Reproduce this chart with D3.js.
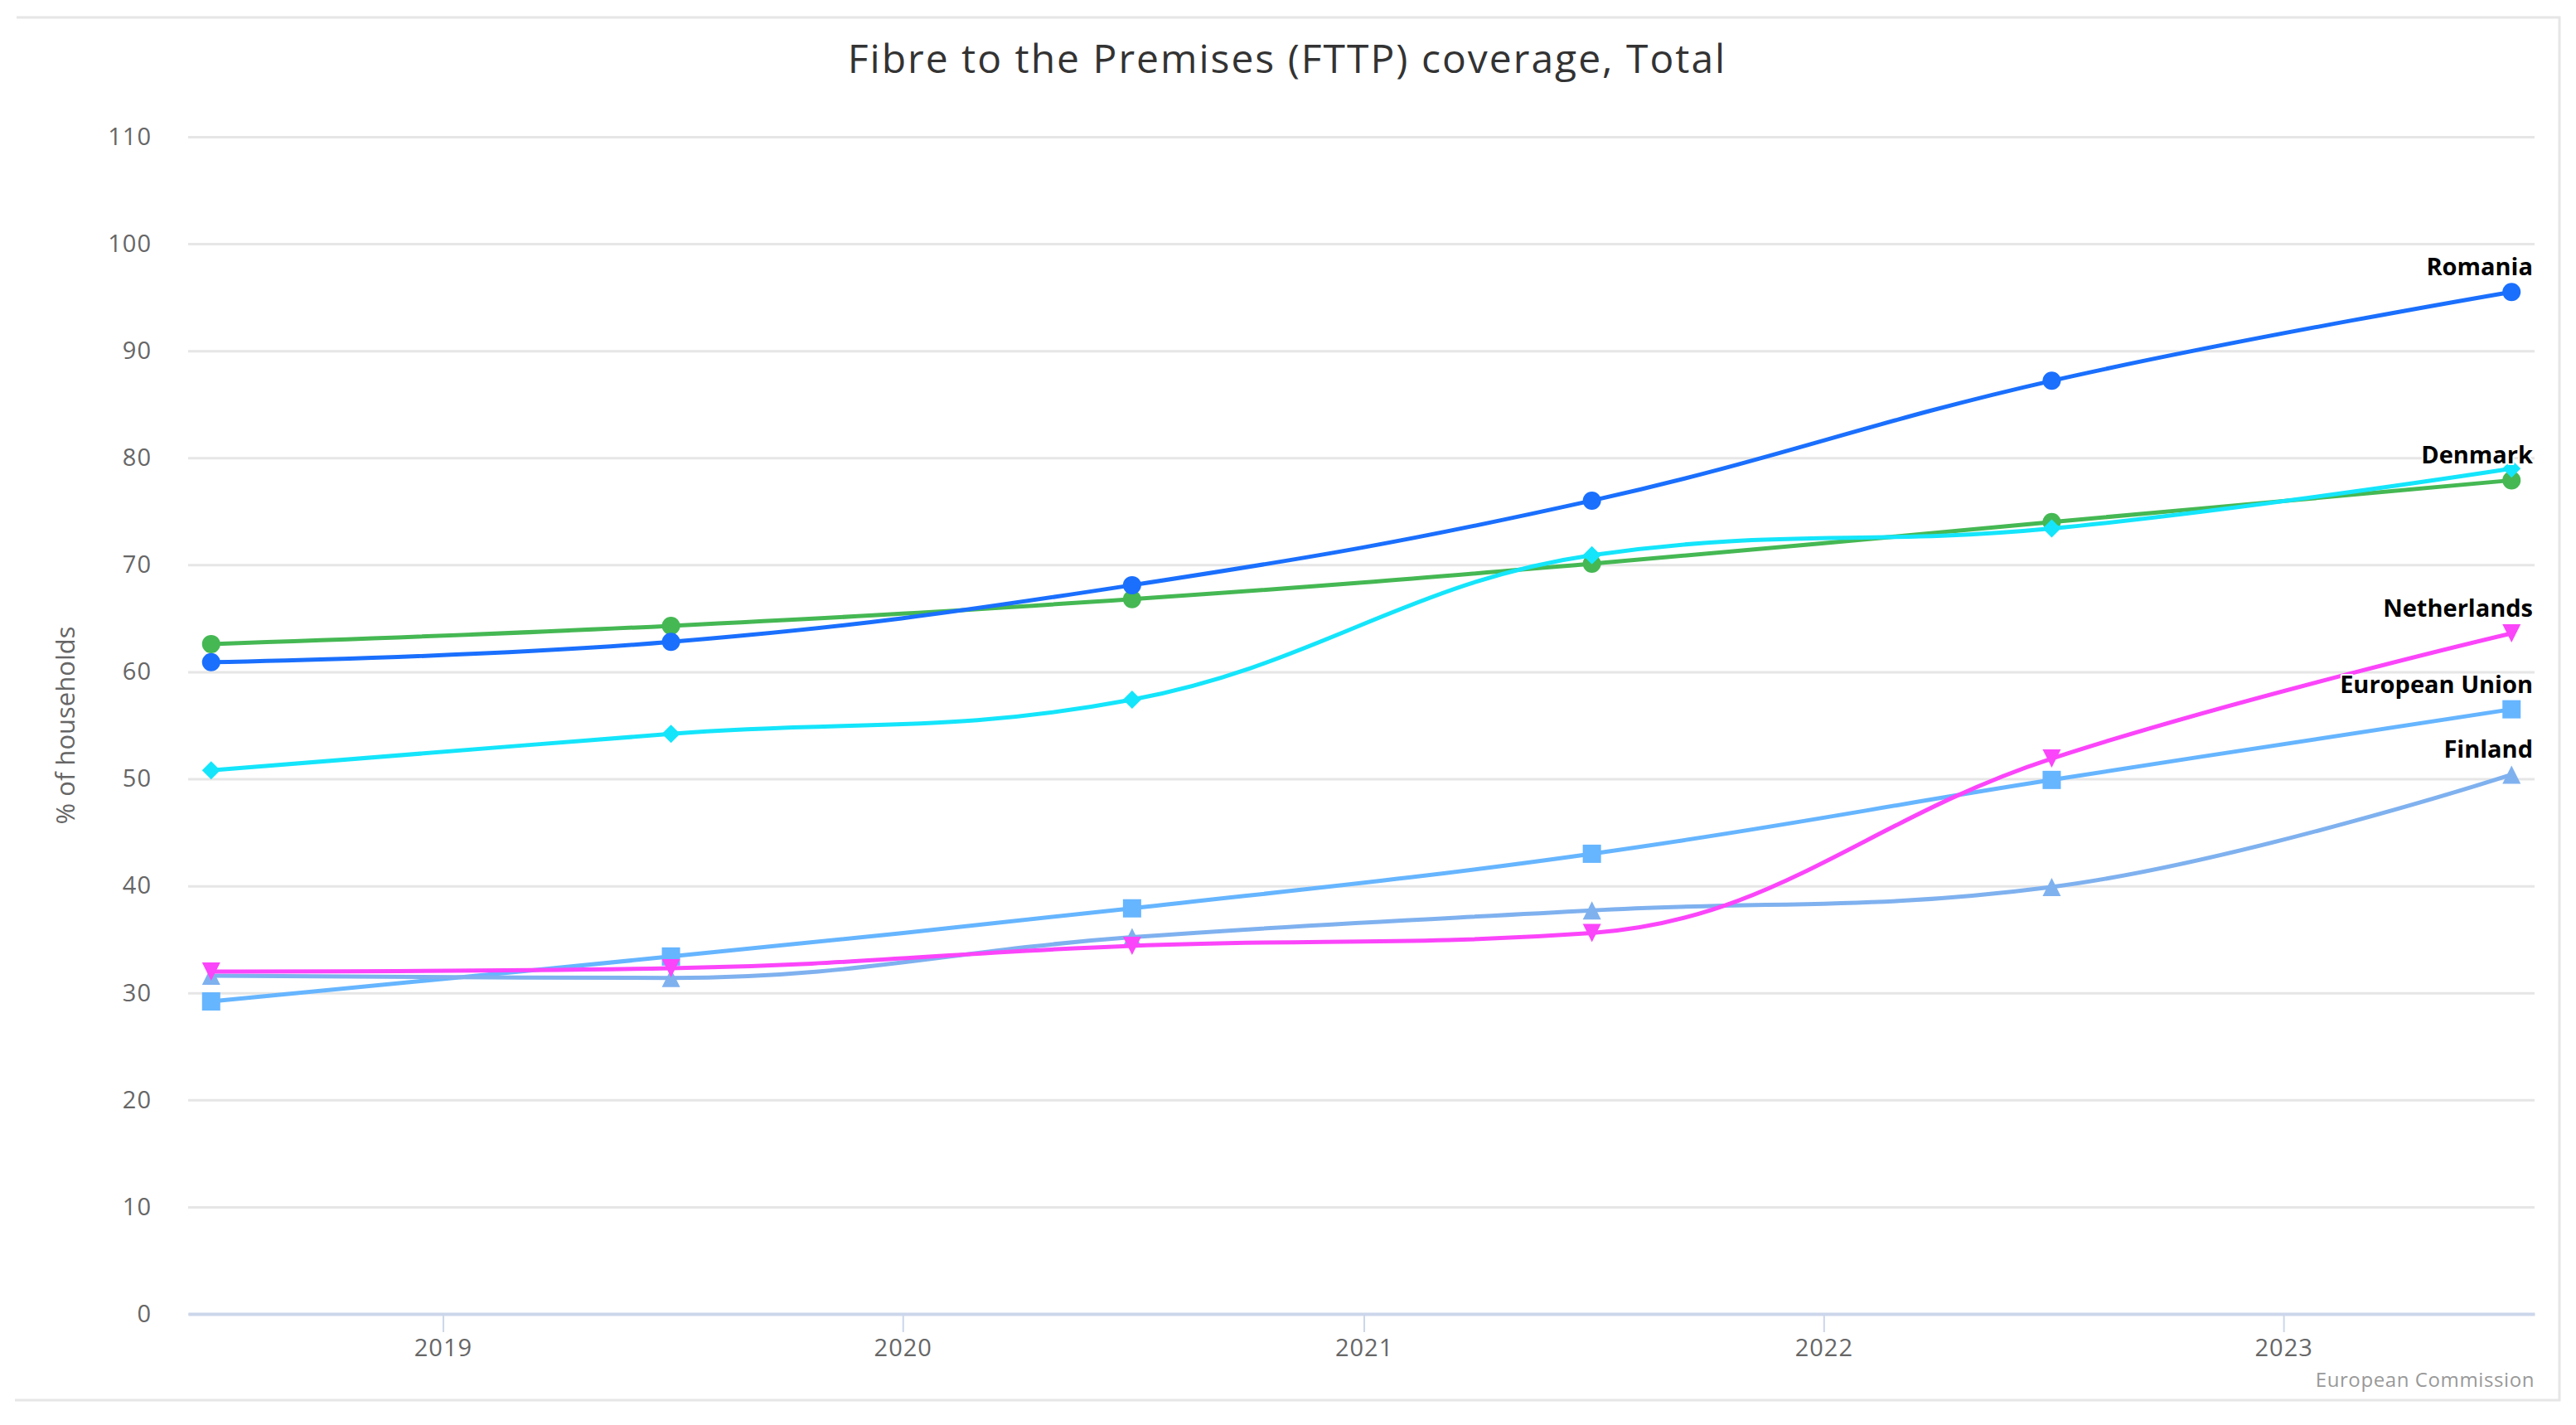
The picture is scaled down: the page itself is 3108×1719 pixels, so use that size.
<!DOCTYPE html>
<html>
<head>
<meta charset="utf-8">
<script src="https://cdn.jsdelivr.net/npm/d3@7"></script>
<style>
  body { margin: 0; background: #fff; }
  svg { display: block; font-family: "Open Sans", "Noto Sans", sans-serif; }
</style>
</head>
<body>
<svg id="chart" width="3108" height="1719"></svg>
<script>
// Data points sit in the middle of each year
var years = [2018, 2019, 2020, 2021, 2022, 2023];
var yTicks = [0, 10, 20, 30, 40, 50, 60, 70, 80, 90, 100, 110];

// Series in the original (alphabetical) order; Estonia's label is hidden
// because it collides with Denmark's
var seriesNames = ['Denmark', 'Estonia', 'European Union', 'Finland', 'Netherlands', 'Romania'];
var denmark     = [62.6, 64.3, 66.8, 70.1, 74.0, 77.9];
var estonia     = [50.8, 54.2, 57.4, 70.9, 73.4, 79.0];
var eu          = [29.2, 33.4, 37.9, 43.0, 49.9, 56.5];
var finland     = [31.6, 31.4, 35.2, 37.7, 39.9, 50.4];
var netherlands = [32.0, 32.3, 34.4, 35.6, 51.9, 63.6];
var romania     = [60.9, 62.8, 68.1, 76.0, 87.2, 95.5];

var seriesValues = [denmark, estonia, eu, finland, netherlands, romania];
var seriesColors = ['#45b853', '#14e5fb', '#66b5ff', '#7fb1ef', '#fb45fa', '#1a6ffd'];
var seriesSymbols = ['circle', 'diamond', 'square', 'triangle', 'triangle-down', 'circle'];

var svg = d3.select('#chart');

// Plot area
var plotLeft = 227, plotRight = 3058, plotTop = 165, plotBottom = 1585;

var dates = years.map(function(yr) { return new Date(yr, 6, 1); });
var span = dates[dates.length - 1] - dates[0];
var x = d3.scaleTime()
  .domain([new Date(+dates[0] - span * 0.01), new Date(+dates[dates.length - 1] + span * 0.01)])
  .range([plotLeft, plotRight]);

var y = d3.scaleLinear().domain([0, 110]).range([plotBottom, plotTop]);

// Outer chart frame (only top, right and bottom edges show)
svg.append('path')
  .attr('d', 'M20,21H3088V1689H18')
  .attr('fill', 'none')
  .attr('stroke', '#e6e6e6')
  .attr('stroke-width', 3);

// Title
svg.append('text')
  .attr('x', 1553)
  .attr('y', 88)
  .attr('text-anchor', 'middle')
  .style('font-size', '48px')
  .style('letter-spacing', '2px')
  .style('fill', '#333333')
  .text('Fibre to the Premises (FTTP) coverage, Total');

// Horizontal grid lines + y labels
var yAxis = d3.axisLeft(y)
  .tickValues(yTicks)
  .tickSize(-(plotRight - plotLeft))
  .tickPadding(44)
  .tickFormat(d3.format('d'));

var gy = svg.append('g')
  .attr('transform', 'translate(' + plotLeft + ',0)')
  .call(yAxis);
gy.select('.domain').remove();
gy.selectAll('.tick line')
  .attr('stroke', '#e6e6e6')
  .attr('stroke-width', 3);
gy.selectAll('.tick text')
  .attr('fill', '#666666')
  .style('font-size', '29px')
  .style('letter-spacing', '1px')
  .style('font-family', '"Open Sans", sans-serif');

// Y axis title
svg.append('text')
  .attr('transform', 'translate(90,875) rotate(-90)')
  .attr('text-anchor', 'middle')
  .style('font-size', '31px')
  .style('fill', '#666666')
  .text('% of households');

// X axis with yearly ticks
var xAxis = d3.axisBottom(x)
  .ticks(d3.timeYear.every(1))
  .tickSize(22)
  .tickSizeOuter(0)
  .tickPadding(8)
  .tickFormat(d3.timeFormat('%Y'));

var gx = svg.append('g')
  .attr('transform', 'translate(0,' + plotBottom + ')')
  .call(xAxis);
gx.select('.domain')
  .attr('stroke', '#ccd6eb')
  .attr('stroke-width', 4);
gx.selectAll('.tick line')
  .attr('stroke', '#ccd6eb')
  .attr('stroke-width', 2);
gx.selectAll('.tick text')
  .attr('fill', '#666666')
  .style('font-size', '29px')
  .style('letter-spacing', '1px')
  .style('font-family', '"Open Sans", sans-serif');

/**
 * Spline like the one Highcharts draws: control points at 1/2.5 of the
 * way to the neighbours, kept from overshooting local extremes.
 */
function SplineCurve(context) { this._context = context; }
SplineCurve.prototype = {
  areaStart: function() {},
  areaEnd: function() {},
  lineStart: function() { this._pts = []; },
  point: function(px, py) { this._pts.push([+px, +py]); },
  lineEnd: function() {
    var p = this._pts, n = p.length, c = this._context;
    if (!n) return;
    var smoothing = 1.5, denom = smoothing + 1;
    var lc = [], rc = [];
    for (var i = 1; i < n - 1; i++) {
      var lx = p[i - 1][0], ly = p[i - 1][1];
      var nx = p[i + 1][0], ny = p[i + 1][1];
      var px = p[i][0], py = p[i][1];
      var lcx = (smoothing * px + lx) / denom, lcy = (smoothing * py + ly) / denom;
      var rcx = (smoothing * px + nx) / denom, rcy = (smoothing * py + ny) / denom;
      var corr = 0;
      if (rcx !== lcx) corr = ((rcy - lcy) * (rcx - px)) / (rcx - lcx) + py - rcy;
      lcy += corr; rcy += corr;
      if (lcy > ly && lcy > py) { lcy = Math.max(ly, py); rcy = 2 * py - lcy; }
      else if (lcy < ly && lcy < py) { lcy = Math.min(ly, py); rcy = 2 * py - lcy; }
      if (rcy > ny && rcy > py) { rcy = Math.max(ny, py); lcy = 2 * py - rcy; }
      else if (rcy < ny && rcy < py) { rcy = Math.min(ny, py); lcy = 2 * py - rcy; }
      lc[i] = [lcx, lcy]; rc[i] = [rcx, rcy];
    }
    c.moveTo(p[0][0], p[0][1]);
    for (var j = 1; j < n; j++) {
      var a = rc[j - 1] || p[j - 1];
      var b = lc[j] || p[j];
      c.bezierCurveTo(a[0], a[1], b[0], b[1], p[j][0], p[j][1]);
    }
  }
};

var line = d3.line()
  .x(function(d) { return x(d.date); })
  .y(function(d) { return y(d.value); })
  .curve(function(ctx) { return new SplineCurve(ctx); });

// Marker shapes, radius r, centred on 0,0
var r = 11;
function symbolPath(name) {
  switch (name) {
    case 'circle':
      return 'M' + (-r) + ',0A' + r + ',' + r + ' 0 1,0 ' + r + ',0A' + r + ',' + r + ' 0 1,0 ' + (-r) + ',0Z';
    case 'square':
      return 'M' + (-r) + ',' + (-r) + 'H' + r + 'V' + r + 'H' + (-r) + 'Z';
    case 'diamond':
      return 'M0,' + (-r) + 'L' + r + ',0L0,' + r + 'L' + (-r) + ',0Z';
    case 'triangle':
      return 'M0,' + (-r) + 'L' + r + ',' + r + 'L' + (-r) + ',' + r + 'Z';
    case 'triangle-down':
      return 'M' + (-r) + ',' + (-r) + 'H' + r + 'L0,' + r + 'Z';
  }
}

var series = seriesNames.map(function(name, i) {
  return {
    name: name,
    color: seriesColors[i],
    symbol: seriesSymbols[i],
    points: seriesValues[i].map(function(v, k) { return { date: dates[k], value: v }; })
  };
});

var gSeries = svg.append('g');

series.forEach(function(s) {
  var g = gSeries.append('g');
  g.append('path')
    .attr('d', line(s.points))
    .attr('fill', 'none')
    .attr('stroke', s.color)
    .attr('stroke-width', 5)
    .attr('stroke-linejoin', 'round')
    .attr('stroke-linecap', 'round');

  g.selectAll('path.marker')
    .data(s.points)
    .enter()
    .append('path')
    .attr('class', 'marker')
    .attr('d', symbolPath(s.symbol))
    .attr('fill', s.color)
    .attr('transform', function(d) {
      return 'translate(' + x(d.date) + ',' + y(d.value) + ')';
    });
});

// Labels on the last point of each series; overlapping ones are hidden
var labelRight = 3056;
var kept = [];
var gLabels = svg.append('g');
series.forEach(function(s) {
  var last = s.points[s.points.length - 1];
  var px = x(last.date), py = y(last.value) - 20;
  var t = gLabels.append('text')
    .attr('x', px)
    .attr('y', py)
    .attr('text-anchor', 'middle')
    .style('font-size', '29px')
    .style('font-weight', 'bold')
    .style('fill', '#000000')
    .style('stroke', '#ffffff')
    .style('stroke-width', '4px')
    .style('stroke-linejoin', 'round')
    .style('paint-order', 'stroke')
    .text(s.name);

  var w = t.node().getComputedTextLength();
  if (px + w / 2 > labelRight) {
    px = labelRight - w / 2;
    t.attr('x', px);
  }
  var box = { x0: px - w / 2, x1: px + w / 2, y0: py - 26, y1: py + 8 };
  var hit = kept.some(function(b) {
    return box.x0 < b.x1 && box.x1 > b.x0 && box.y0 < b.y1 && box.y1 > b.y0;
  });
  if (hit) {
    t.remove();
  } else {
    kept.push(box);
  }
});

// Credits
svg.append('text')
  .attr('x', 3058)
  .attr('y', 1673)
  .attr('text-anchor', 'end')
  .style('font-size', '24px')
  .style('letter-spacing', '0.6px')
  .style('fill', '#999999')
  .text('European Commission');
</script>
</body>
</html>
